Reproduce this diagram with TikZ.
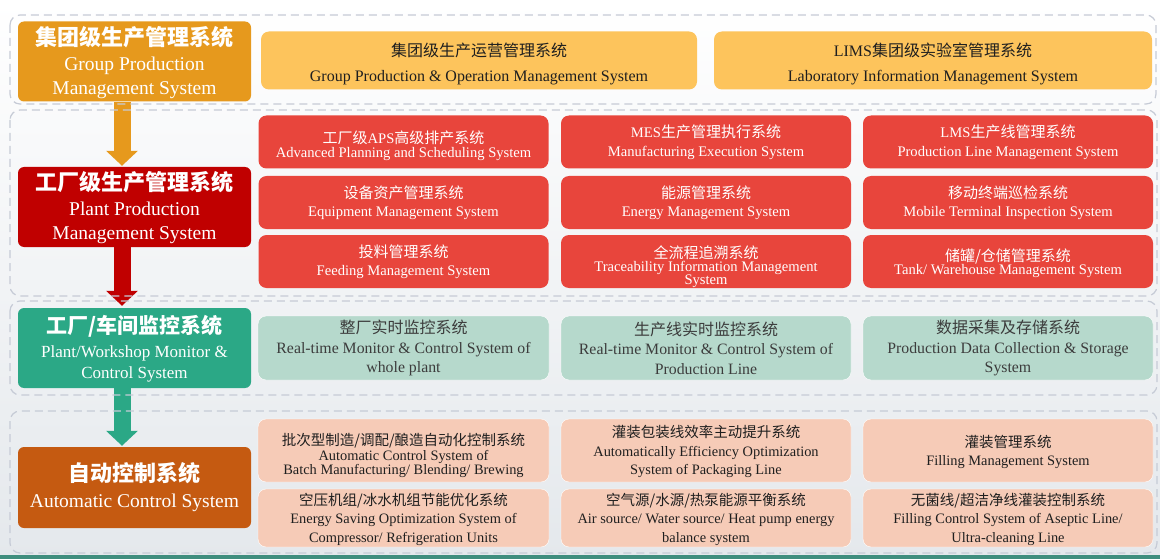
\documentclass[tikz,border=0pt]{standalone}
\usepackage{fontspec}
\setmainfont{Liberation Serif}
\newfontfamily\zh{Noto Sans CJK SC}
\usetikzlibrary{arrows.meta}

\definecolor{grpdark}{HTML}{E6991D}
\definecolor{grplight}{HTML}{FDC45C}
\definecolor{plantdark}{HTML}{C00000}
\definecolor{plantlight}{HTML}{E8453C}
\definecolor{mondark}{HTML}{2BA886}
\definecolor{monlight}{HTML}{B6D9CC}
\definecolor{ctrldark}{HTML}{C55A11}
\definecolor{ctrllight}{HTML}{F6CBB7}
\definecolor{framegray}{HTML}{C6CBD6}
\definecolor{textdark}{HTML}{1F1F1F}
\definecolor{textgray}{HTML}{3C3C3C}
\definecolor{bgdown}{HTML}{E4E8EC}
\definecolor{stripe}{HTML}{3F8E7E}

\newcommand\cn[2][15]{{\zh\fontsize{#1}{#1}\selectfont #2}}
\newcommand\tightlines{\lineskiplimit-50pt\relax}
\newcommand\fs[2]{\fontsize{#1}{#2}\selectfont\tightlines}
\newcommand\padtop[1]{\rule{0pt}{#1}}

\tikzset{
  layerframe/.style={draw=framegray, line width=1.2pt, dash pattern=on 8pt off 5pt, rounded corners=10pt},
  levelbox/.style={rounded corners=6pt, align=center, inner sep=0pt, text=white,
    minimum width=233pt, minimum height=80pt, font=\fs{19.5}{24}},
  sysbox/.style={rounded corners=8pt, align=center, inner sep=0pt, minimum width=290pt, minimum height=53pt},
  grpsys/.style={sysbox, fill=grplight, text=textdark, minimum width=437pt, minimum height=58pt,
    font=\fs{16}{25}},
  plantsys/.style={sysbox, fill=plantlight, text=white, font=\fs{14.6}{18.5}},
  monsys/.style={sysbox, fill=monlight, text=textgray, draw=white, minimum height=64pt,
    font=\fs{15.8}{19.5}},
  ctrlsys/.style={sysbox, fill=ctrllight, text=textdark, draw=white, font=\fs{14.4}{18.5}},
  levelarrow/.style={line width=17pt, -{Triangle[width=31pt,length=15pt]}}
}

\begin{document}
\begin{tikzpicture}[x=1pt,y=-1pt]
  \useasboundingbox (0,0) rectangle (1160,559);
  \shade[top color=white, middle color=white, bottom color=bgdown] (0,0) rectangle (1160,559);
  \fill[stripe] (0,555) rectangle (1160,559);

  % left column
  \node[levelbox, fill=grpdark] (grp) at (134.5,61.5)
    {\padtop{21pt}\cn[22]{\bfseries 集团级生产管理系统}\\[1pt]Group Production\\Management System};
  \node[levelbox, fill=plantdark] (plant) at (134.5,207)
    {\padtop{21pt}\cn[22]{\bfseries 工厂级生产管理系统}\\[1pt]Plant Production\\Management System};
  \node[levelbox, fill=mondark, font=\fs{17}{21.5}] (mon) at (134.5,348)
    {\padtop{20pt}\cn[21]{\bfseries 工厂/车间监控系统}\\[2pt]Plant/Workshop Monitor \&\\Control System};
  \node[levelbox, fill=ctrldark, minimum height=81pt, font=\fs{19.5}{26}] (ctrl) at (134.5,487.5)
    {\cn[22]{\bfseries 自动控制系统}\\Automatic Control System};

  % group level
  \node[grpsys, minimum width=436pt] (grpops) at (479,60.5)
    {\padtop{21pt}\cn[16]{集团级生产运营管理系统}\\Group Production \& Operation Management System};
  \node[grpsys, minimum width=438pt] (lims) at (933,60.5)
    {\padtop{21pt}LIMS\cn[16]{集团级实验室管理系统}\\Laboratory Information Management System};

  % plant level
  \node[plantsys, font=\fs{14.6}{13.5}] (aps) at (403.5,142)
    {\padtop{20.5pt}\cn{工厂级}APS\cn{高级排产系统}\\Advanced Planning and Scheduling System};
  \node[plantsys] (mes) at (706,142)
    {MES\cn{生产管理执行系统}\\Manufacturing Execution System};
  \node[plantsys] (lms) at (1008,142)
    {LMS\cn{生产线管理系统}\\Production Line Management System};
  \node[plantsys] (eam) at (403.5,202.5)
    {\cn{设备资产管理系统}\\Equipment Management System};
  \node[plantsys] (ems) at (706,202.5)
    {\cn{能源管理系统}\\Energy Management System};
  \node[plantsys] (mti) at (1008,202.5)
    {\cn{移动终端巡检系统}\\Mobile Terminal Inspection System};
  \node[plantsys] (feed) at (403.5,261.5)
    {\cn{投料管理系统}\\Feeding Management System};
  \node[plantsys, font=\fs{14.6}{13}] (trace) at (706,261.5)
    {\padtop{22.5pt}\cn{全流程追溯系统}\\Traceability Information Management\\System};
  \node[plantsys, font=\fs{14.6}{13.5}] (tank) at (1008,261.5)
    {\padtop{16.5pt}\cn{储罐/仓储管理系统}\\Tank/ Warehouse Management System};

  % monitor level
  \node[monsys, minimum width=291pt] (wholemon) at (403.5,348)
    {\cn[16]{整厂实时监控系统}\\Real-time Monitor \& Control System of\\whole plant};
  \node[monsys] (linemon) at (706,348)
    {\cn[16]{生产线实时监控系统}\\Real-time Monitor \& Control System of\\Production Line};
  \node[monsys] (datacol) at (1008,348)
    {\cn[16]{数据采集及存储系统}\\Production Data Collection \& Storage\\System};

  % control level
  \node[ctrlsys, minimum width=291pt, minimum height=63pt, font=\fs{14.4}{13.5}] (batch) at (403.5,450.5)
    {\padtop{22pt}\cn[14.5]{批次型制造/调配/酿造自动化控制系统}\\[2pt]Automatic Control System of\\Batch Manufacturing/ Blending/ Brewing};
  \node[ctrlsys, minimum height=63pt] (pack) at (706,450.5)
    {\padtop{15pt}\cn[14.5]{灌装包装线效率主动提升系统}\\Automatically Efficiency Optimization\\System of Packaging Line};
  \node[ctrlsys, minimum height=63pt] (fill) at (1008,450.5)
    {\padtop{15pt}\cn[14.5]{灌装管理系统}\\Filling Management System};
  \node[ctrlsys, minimum width=291pt, minimum height=58pt] (comp) at (403.5,518)
    {\padtop{15pt}\cn[14.5]{空压机组/冰水机组节能优化系统}\\Energy Saving Optimization System of\\Compressor/ Refrigeration Units};
  \node[ctrlsys, minimum height=58pt] (heat) at (706,518)
    {\padtop{15pt}\cn[14.5]{空气源/水源/热泵能源平衡系统}\\Air source/ Water source/ Heat pump energy\\balance system};
  \node[ctrlsys, minimum height=58pt] (aseptic) at (1008,518)
    {\padtop{15pt}\cn[14.5]{无菌线/超洁净线灌装控制系统}\\Filling Control System of Aseptic Line/\\Ultra-cleaning Line};

  % level arrows
  \draw[levelarrow, grpdark] ([xshift=-12.5pt]grp.south) -- ([xshift=-12.5pt,yshift=1pt]plant.north);
  \draw[levelarrow, plantdark] ([xshift=-12.5pt]plant.south) -- ([xshift=-12.5pt,yshift=2pt]mon.north);
  \draw[levelarrow, mondark] ([xshift=-12.5pt]mon.south) -- ([xshift=-12.5pt,yshift=1pt]ctrl.north);

  % layer frames
  \draw[layerframe] (10,15) rectangle (1156,104);
  \draw[layerframe] (10,110) rectangle (1157,296);
  \draw[layerframe] (10,301) rectangle (1157,395);
  \draw[layerframe] (10,411) rectangle (1157,553);
\end{tikzpicture}
\end{document}
